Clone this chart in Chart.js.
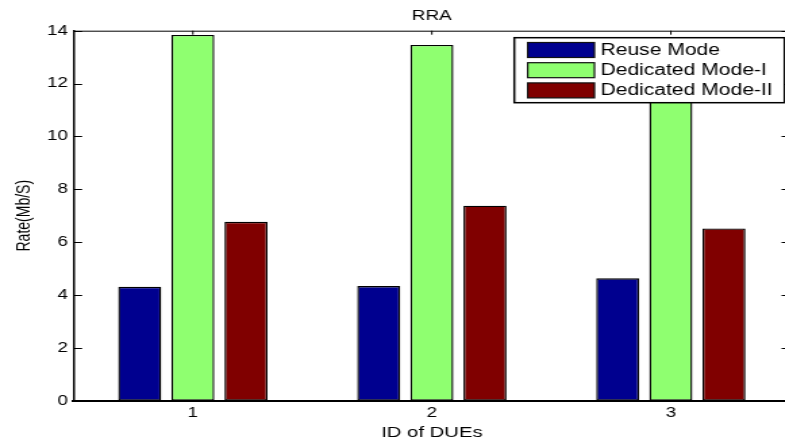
<!DOCTYPE html>
<html>
<head>
<meta charset="utf-8">
<script src="https://cdn.jsdelivr.net/npm/chart.js@4.4.0/dist/chart.umd.min.js"></script>
<style>
  body { margin: 0; overflow: hidden; background: #fff; }
  /* the original figure is stretched sideways, so draw narrow and widen it */
  #wrap { width: 585px; height: 443px; transform: scaleX(1.351); transform-origin: 0 0; }
</style>
</head>
<body>
<div id="wrap"><canvas id="myChart" width="585" height="443"></canvas></div>
<script>
const ids = ['1', '2', '3'];
const reuseMode = [4.31, 4.34, 4.63];
const dedicatedModeI = [13.84, 13.46, 13.0];
const dedicatedModeII = [6.77, 7.38, 6.52];
const yTicks = [0, 2, 4, 6, 8, 10, 12, 14];

const font = 'Liberation Sans, Arial, Helvetica, sans-serif';
Chart.defaults.color = '#000';
Chart.defaults.font.family = font;

/* matlab style box: top line, inward ticks, boxed legend inside the axes */
const matlabBox = {
  id: 'matlabBox',
  afterDatasetsDraw(chart) {
    const ctx = chart.ctx;
    const a = chart.chartArea;
    const x = chart.scales.x, y = chart.scales.y;
    ctx.save();
    ctx.strokeStyle = '#000';
    ctx.lineWidth = 1;
    ctx.beginPath();
    ctx.moveTo(a.left, a.top + 0.5);
    ctx.lineTo(a.right, a.top + 0.5);
    yTicks.forEach(v => {
      const py = Math.round(y.getPixelForValue(v)) + 0.5;
      ctx.moveTo(a.left, py); ctx.lineTo(a.left + 6.5, py);
      ctx.moveTo(a.right, py); ctx.lineTo(a.right - 6.5, py);
    });
    ids.forEach((c, i) => {
      const px = x.getPixelForTick(i);
      ctx.moveTo(px, a.top); ctx.lineTo(px, a.top + 4);
    });
    ctx.stroke();

    // legend
    const bx = 380.7, by = 37.7, bw = 200, bh = 65;
    ctx.fillStyle = '#fff';
    ctx.fillRect(bx, by, bw, bh);
    ctx.lineWidth = 1.5;
    ctx.strokeRect(bx, by, bw, bh);
    ctx.font = '15.6px ' + font;
    ctx.textBaseline = 'middle';
    ctx.lineWidth = 1.2;
    chart.data.datasets.forEach((ds, i) => {
      const cy = by + 12.3 + i * 20.2;
      ctx.fillStyle = ds.backgroundColor;
      ctx.fillRect(390.6, cy - 7.5, 49.4, 15);
      ctx.strokeStyle = '#111';
      ctx.strokeRect(390.6, cy - 7.5, 49.4, 15);
      ctx.fillStyle = '#000';
      ctx.fillText(ds.label, 444.5, cy + 0.5);
    });
    ctx.restore();
  }
};

const ctx = document.getElementById('myChart').getContext('2d');
const myChart = new Chart(ctx, {
  type: 'bar',
  data: {
    labels: ids,
    datasets: [
      { label: 'Reuse Mode', data: reuseMode, backgroundColor: 'rgb(0,0,143)' },
      { label: 'Dedicated Mode-I', data: dedicatedModeI, backgroundColor: 'rgb(143,255,112)' },
      { label: 'Dedicated Mode-II', data: dedicatedModeII, backgroundColor: 'rgb(128,0,0)' }
    ].map(d => Object.assign(d, {
      borderColor: '#000',
      borderWidth: 1.4,
      borderSkipped: false,
      categoryPercentage: 0.667,
      barPercentage: 0.81
    }))
  },
  options: {
    responsive: false,
    animation: false,
    layout: { padding: 0 },
    scales: {
      x: {
        grid: { display: false, drawTicks: false },
        border: { display: true, color: '#000', width: 2 },
        ticks: { padding: 4, font: { size: 14 } },
        title: { display: true, text: 'ID of DUEs', font: { size: 15 }, padding: { top: 0, bottom: 1.3 } },
        afterFit(s) { s.height = 42.3; }
      },
      y: {
        min: 0,
        max: 14,
        grid: { display: false, drawTicks: false },
        border: { display: true, color: '#000', width: 1.5 },
        ticks: { stepSize: 2, padding: 4, font: { size: 14 } },
        title: { display: true, text: 'Rate(Mb/S)', font: { size: 14 }, padding: { top: 9.5, bottom: 0 } },
        afterFit(s) { s.width = 54.3; }
      }
    },
    plugins: {
      legend: { display: false },
      tooltip: { enabled: false },
      title: {
        display: true,
        text: 'RRA',
        fullSize: false,
        font: { size: 14, weight: 'normal' },
        padding: { top: 7.9, bottom: 6 }
      }
    }
  },
  plugins: [matlabBox]
});
</script>
</body>
</html>
